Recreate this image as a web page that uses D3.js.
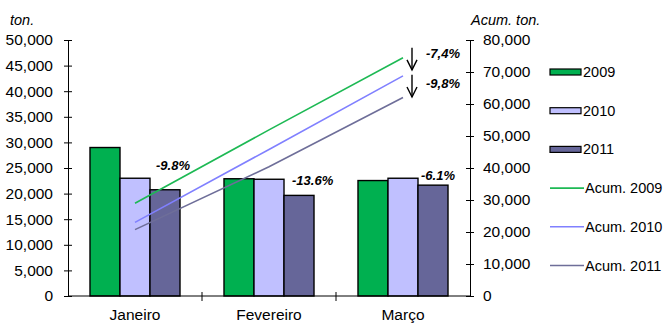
<!DOCTYPE html>
<html><head><meta charset="utf-8">
<script src="https://cdn.jsdelivr.net/npm/d3@7"></script>
<style>
body{margin:0;background:#fff;}
svg{display:block;font-family:"Liberation Sans",Arial,sans-serif;}
</style></head>
<body><svg id="c" width="666" height="323"></svg>
<script>
const categories = ["Janeiro", "Fevereiro", "Março"];
const seriesNames = ["2009", "2010", "2011"];
const bars2009 = [29000, 22900, 22550];
const bars2010 = [23000, 22800, 23000];
const bars2011 = [20750, 19650, 21650];
const acumNames = ["Acum. 2009", "Acum. 2010", "Acum. 2011"];
const acum2009 = [29000, 51900, 74450];
const acum2010 = [23000, 45800, 68800];
const acum2011 = [20750, 40400, 62050];
const leftTicks = [0, 5000, 10000, 15000, 20000, 25000, 30000, 35000, 40000, 45000, 50000];
const rightTicks = [0, 10000, 20000, 30000, 40000, 50000, 60000, 70000, 80000];
const barLabels = ["-9.8%", "-13.6%", "-6.1%"];
const acumLabels = ["-7,4%", "-9,8%"];

const barColors = ["#00b050", "#c0c0ff", "#666699"];
const lineColors = ["#1db954", "#8080ff", "#6e6e99"];

const svg = d3.select("#c");
const L = 68, R = 470, T = 40, B = 296;

const x = d3.scaleBand().domain(categories).range([L, R]).padding(0);
const xs = d3.scaleBand().domain(seriesNames).range([0, x.bandwidth()]).paddingInner(0).paddingOuter(0.733);
const y = d3.scaleLinear().domain([0, 50000]).range([B, T]);
const y2 = d3.scaleLinear().domain([0, 80000]).range([B, T]);

const barData = [bars2009, bars2010, bars2011];
const acumData = [acum2009, acum2010, acum2011];

// bars
seriesNames.forEach((s, si) => {
  svg.append("g").selectAll("rect").data(categories).join("rect")
    .attr("x", c => x(c) + xs(s))
    .attr("width", xs.bandwidth())
    .attr("y", (c, i) => y(barData[si][i]))
    .attr("height", (c, i) => B - y(barData[si][i]))
    .attr("fill", barColors[si])
    .attr("stroke", "#000").attr("stroke-width", 1.4);
});

// lines
const line = d3.line().x((d, i) => x(categories[i]) + x.bandwidth() / 2).y(d => y2(d));
acumData.forEach((a, ai) => {
  svg.append("path").datum(a).attr("d", line)
    .attr("fill", "none").attr("stroke", lineColors[ai]).attr("stroke-width", 1.6);
});

// left axis
const ga = svg.append("g").attr("transform", `translate(${L},0)`)
  .call(d3.axisLeft(y).tickValues(leftTicks).tickFormat(d3.format(",")).tickSizeOuter(0).tickSizeInner(4).tickPadding(11));
ga.selectAll(".tick line").attr("x1", -4).attr("x2", 4);
ga.selectAll("text").attr("font-size", 15.5).attr("fill", "#000").attr("font-family", "Liberation Sans, Arial");
ga.select(".domain").attr("stroke", "#000");

// right axis
const gb = svg.append("g").attr("transform", `translate(${R},0)`)
  .call(d3.axisRight(y2).tickValues(rightTicks).tickFormat(d3.format(",")).tickSizeOuter(0).tickSizeInner(4).tickPadding(9));
gb.selectAll(".tick line").attr("x1", -4).attr("x2", 4);
gb.selectAll("text").attr("font-size", 15.5).attr("fill", "#000").attr("font-family", "Liberation Sans, Arial");
gb.select(".domain").attr("stroke", "#000");

// x axis
svg.append("line").attr("x1", L).attr("x2", R).attr("y1", B).attr("y2", B).attr("stroke", "#000");
svg.append("g").selectAll("line").data(categories.slice(1)).join("line")
  .attr("x1", c => x(c)).attr("x2", c => x(c)).attr("y1", B - 4).attr("y2", B + 5).attr("stroke", "#000");
svg.append("g").selectAll("text").data(categories).join("text")
  .attr("x", c => x(c) + x.bandwidth() / 2).attr("y", 320)
  .attr("text-anchor", "middle").attr("font-size", 15.5).text(c => c);

// axis titles
svg.append("text").attr("x", 10).attr("y", 25).attr("font-style", "italic").attr("font-size", 14.5).text("ton.");
svg.append("text").attr("x", 471).attr("y", 25).attr("font-style", "italic").attr("font-size", 14.5).text("Acum. ton.");

// bar change labels (above 2011 bars)
svg.append("g").selectAll("text").data(categories).join("text")
  .attr("x", (c, i) => x(c) + xs("2011") + [6, 8, 3][i])
  .attr("y", (c, i) => y(bars2011[i]) - [20, 10, 5][i])
  .attr("font-weight", "bold").attr("font-style", "italic").attr("font-size", 13)
  .text((c, i) => barLabels[i]);

// acum change labels + arrows
const lastX = x(categories[2]) + x.bandwidth() / 2;
const ax = lastX + 9;
[[acum2009[2], acum2010[2]], [acum2010[2], acum2011[2]]].forEach((p, k) => {
  const y0 = y2(p[0]) - [10, 1][k], y1 = y2(p[1]) - [6, 0.5][k];
  const g = svg.append("g").attr("stroke", "#000").attr("stroke-width", 1.4).attr("fill", "none");
  g.append("line").attr("x1", ax).attr("x2", ax).attr("y1", y0).attr("y2", y1);
  g.append("path").attr("d", `M${ax - 5},${y1 - 10}L${ax},${y1}L${ax + 5},${y1 - 10}`);
  svg.append("text").attr("x", 426).attr("y", (y0 + y1) / 2 + [-1, 2.5][k])
    .attr("font-weight", "bold").attr("font-style", "italic").attr("font-size", 13)
    .text(acumLabels[k]);
});

// legend
const lg = svg.append("g");
seriesNames.forEach((s, i) => {
  const cy = 72 + i * 38.7;
  lg.append("rect").attr("x", 550).attr("y", cy - 3).attr("width", 31).attr("height", 6)
    .attr("fill", barColors[i]).attr("stroke", "#000").attr("stroke-width", 1.2);
  lg.append("text").attr("x", 583).attr("y", cy + 5).attr("font-size", 14.5).text(s);
});
acumNames.forEach((s, i) => {
  const cy = 72 + (i + 3) * 38.7;
  lg.append("line").attr("x1", 550).attr("x2", 584).attr("y1", cy).attr("y2", cy)
    .attr("stroke", lineColors[i]).attr("stroke-width", 1.6);
  lg.append("text").attr("x", 585).attr("y", cy + 5).attr("font-size", 14.5).text(s);
});
</script></body></html>
